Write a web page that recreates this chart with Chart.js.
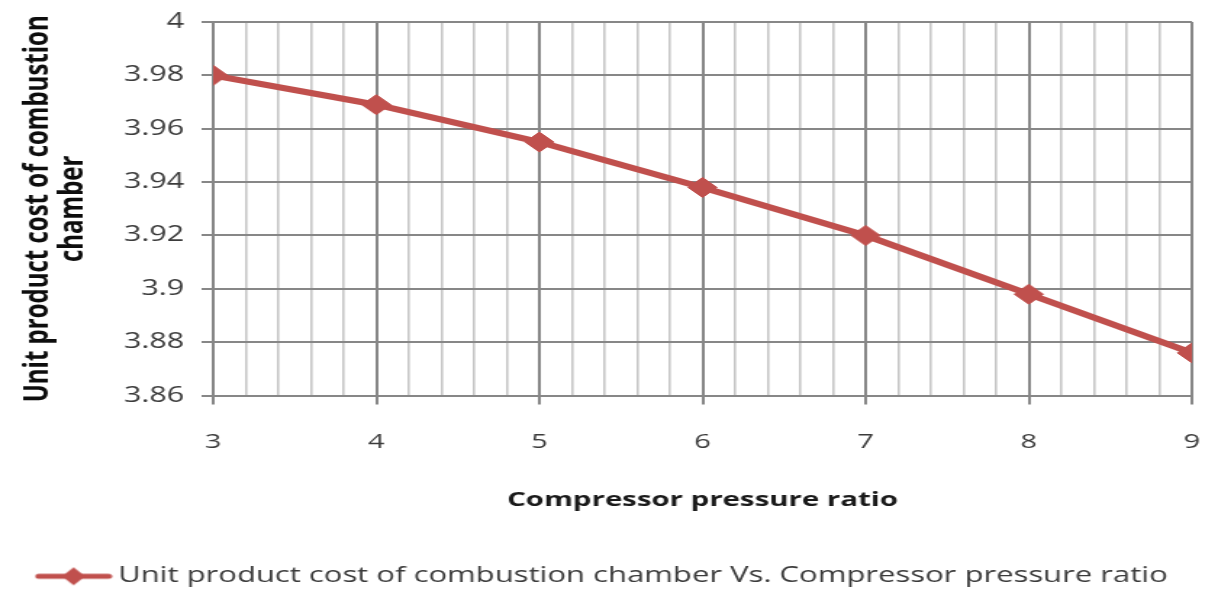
<!DOCTYPE html>
<html>
<head>
<meta charset="utf-8">
<title>Unit product cost of combustion chamber</title>
<script src="https://cdn.jsdelivr.net/npm/chart.js@4/dist/chart.umd.min.js"></script>
<style>
  html, body { margin: 0; padding: 0; background: #ffffff; overflow: hidden; }
  #wrap {
    width: 833px;
    height: 597px;
    transform: scaleX(1.45);
    transform-origin: 0 0;
  }
  canvas { display: block; }
</style>
</head>
<body>
<div id="wrap"><canvas id="chart" width="833" height="597"></canvas></div>
<script>
// Compressor pressure ratio (x) and unit product cost of the combustion chamber (y)
const pressureRatios = [3, 4, 5, 6, 7, 8, 9];
const unitProductCost = [3.980, 3.969, 3.955, 3.938, 3.920, 3.898, 3.876];

// Axis texts
const xAxisTitle = 'Compressor pressure ratio';
const yAxisTitle = ['Unit product cost of combustion', 'chamber'];
const seriesLabel = 'Unit product cost of combustion chamber Vs. Compressor pressure ratio';

const lineColor = '#c0504d';
const majorGrid = '#878787';
const minorGrid = '#c6c6c6';
const textColor = '#3b3b3b';

const isWhole = v => Math.abs(v - Math.round(v)) < 1e-6;

// Legend symbol: short line with a diamond marker in the middle
function legendSymbol() {
  const c = document.createElement('canvas');
  c.width = 54; c.height = 20;
  const g = c.getContext('2d');
  g.strokeStyle = lineColor;
  g.lineWidth = 5;
  g.lineCap = 'round';
  g.beginPath(); g.moveTo(3, 10); g.lineTo(51, 10); g.stroke();
  g.fillStyle = lineColor;
  g.beginPath();
  g.moveTo(27, 1); g.lineTo(35, 10); g.lineTo(27, 19); g.lineTo(19, 10);
  g.closePath(); g.fill();
  return c;
}

const points = pressureRatios.map((x, i) => ({ x: x, y: unitProductCost[i] }));

new Chart(document.getElementById('chart'), {
  type: 'line',
  data: {
    datasets: [{
      label: seriesLabel,
      data: points,
      borderColor: lineColor,
      backgroundColor: lineColor,
      borderWidth: 6,
      pointStyle: 'rectRot',
      pointRadius: 10,
      pointHoverRadius: 10,
      pointBorderWidth: 1,
      pointBackgroundColor: lineColor,
      pointBorderColor: lineColor,
      tension: 0,
      fill: false
    }]
  },
  options: {
    responsive: false,
    devicePixelRatio: 1,
    animation: false,
    layout: { padding: { left: 14, right: 11, top: 22, bottom: 0 } },
    plugins: {
      tooltip: { enabled: false },
      legend: {
        display: true,
        position: 'bottom',
        labels: {
          usePointStyle: true,
          pointStyle: legendSymbol(),
          pointStyleWidth: 40,
          color: textColor,
          padding: 10,
          font: { family: 'Open Sans', size: 21.4 }
        }
      }
    },
    scales: {
      x: {
        type: 'linear',
        min: 3,
        max: 9,
        afterFit: s => { s.height = 160; },
        afterBuildTicks: s => {
          // gridlines every 0.2, labelled only at whole numbers
          const t = [];
          for (let i = 0; i <= 30; i++) t.push({ value: 3 + i * 0.2 });
          s.ticks = t;
        },
        ticks: {
          autoSkip: false,
          maxRotation: 0,
          padding: 2,
          color: textColor,
          font: { family: 'Open Sans', size: 20, lineHeight: 3.6 },
          callback: v => isWhole(v) ? String(Math.round(v)) : ''
        },
        grid: {
          color: c => isWhole(c.tick.value) ? majorGrid : minorGrid,
          lineWidth: c => isWhole(c.tick.value) ? 2 : 1.6,
          tickColor: c => isWhole(c.tick.value) ? majorGrid : 'rgba(0,0,0,0)',
          tickLength: 9,
          drawTicks: true
        },
        border: { color: majorGrid, width: 2 },
        title: {
          display: true,
          text: xAxisTitle,
          color: '#1a1a1a',
          font: { family: 'Open Sans', size: 20.3, weight: 'bold' },
          padding: { top: 0, bottom: 43 }
        }
      },
      y: {
        type: 'linear',
        min: 3.86,
        max: 4,
        afterFit: s => { s.width = 133; },
        ticks: {
          stepSize: 0.02,
          padding: 12,
          color: textColor,
          font: { family: 'Open Sans', size: 21, lineHeight: 0.9 },
          callback: v => String(Number(v.toFixed(2)))
        },
        grid: {
          color: majorGrid,
          lineWidth: 2,
          tickLength: 8
        },
        border: { color: majorGrid, width: 2 },
        title: {
          display: true,
          text: yAxisTitle,
          color: '#0d0d0d',
          font: { family: 'Open Sans', size: 24, weight: 'bold', lineHeight: 1.0 },
          padding: { top: 0, bottom: 0 }
        }
      }
    }
  }
});
</script>
</body>
</html>
